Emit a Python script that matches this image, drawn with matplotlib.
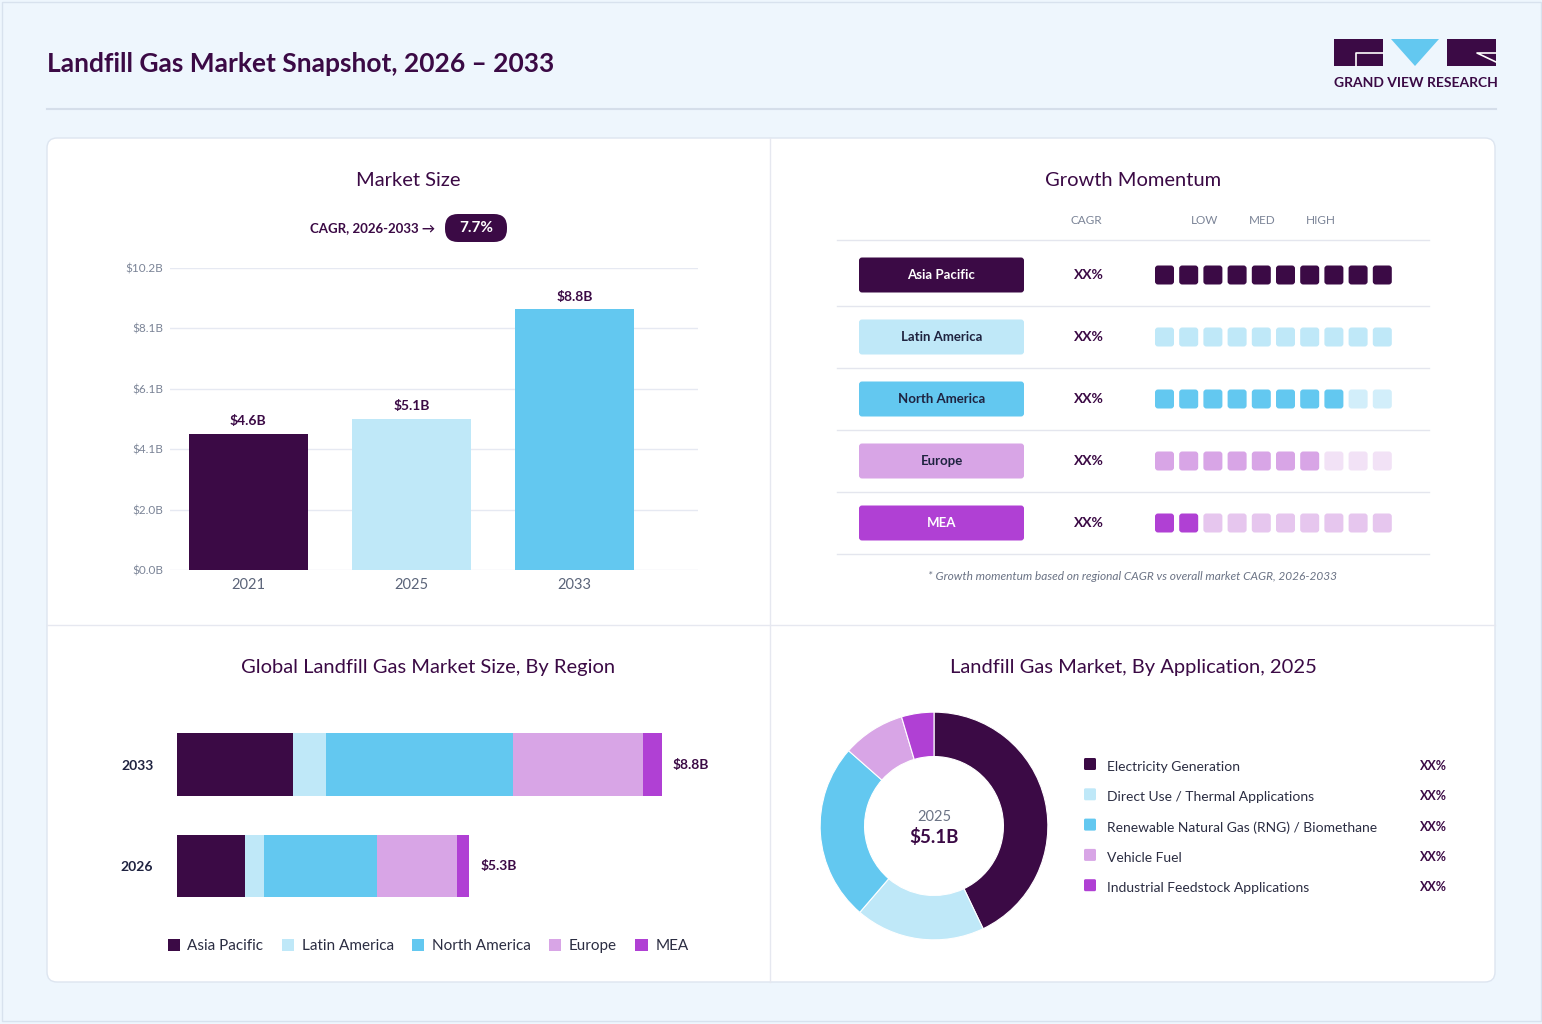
import numpy as np
import matplotlib.pyplot as plt
from matplotlib.patches import FancyBboxPatch, Rectangle, Polygon

plt.rcParams['font.family'] = ['Lato', 'DejaVu Sans']

# ---- data ----
years = ['2021', '2025', '2033']
market_size = [4.6, 5.1, 8.8]
size_labels = ['$4.6B', '$5.1B', '$8.8B']
y_tick_labels = ['$0.0B', '$2.0B', '$4.1B', '$6.1B', '$8.1B', '$10.2B']
cagr_text = '7.7%'

regions = ['Asia Pacific', 'Latin America', 'North America', 'Europe', 'MEA']
momentum = [10, 10, 8, 7, 2]
cagr_labels = ['XX%', 'XX%', 'XX%', 'XX%', 'XX%']

region_years = ['2026', '2033']
region_2026 = [1.23, 0.35, 2.05, 1.45, 0.22]
region_2033 = [2.10, 0.60, 3.40, 2.36, 0.34]
region_totals = ['$5.3B', '$8.8B']

applications = ['Electricity Generation', 'Direct Use / Thermal Applications',
                'Renewable Natural Gas (RNG) / Biomethane', 'Vehicle Fuel',
                'Industrial Feedstock Applications']
app_share = [42.9, 18.4, 25.2, 8.9, 4.6]
app_labels = ['XX%', 'XX%', 'XX%', 'XX%', 'XX%']

# ---- style ----
DARK = '#3B0A45'
colors = ['#3B0A45', '#BFE8F8', '#63C8F0', '#D8A5E6', '#B040D4']
inactive = ['#E3DCE6', '#D6F0FA', '#D2EEFA', '#F2E2F6', '#E6C6EE']
pill_text = ['white', '#1F2340', '#1F2340', '#1F2340', 'white']
GRAY = '#7B8497'

W, H = 1542, 1024
fig = plt.figure(figsize=(W / 100, H / 100), dpi=100)
fig.patch.set_facecolor('#EEF6FD')


def px_axes(x0, y0, x1, y1):
    return fig.add_axes([x0 / W, 1 - y1 / H, (x1 - x0) / W, (y1 - y0) / H])


def rbox(ax, x0, y0, x1, y1, r, fc, ec='none', lw=1, z=1):
    ax.add_patch(FancyBboxPatch((x0, y0), x1 - x0, y1 - y0,
                                boxstyle=f'round,pad=0,rounding_size={r}',
                                fc=fc, ec=ec, lw=lw, zorder=z))


# background layer in pixel coordinates
bg = fig.add_axes([0, 0, 1, 1])
bg.set_xlim(0, W)
bg.set_ylim(H, 0)
bg.axis('off')

bg.add_patch(Rectangle((1.5, 1.5), W - 3, H - 5, fc='none', ec='#D8E2EE', lw=1))
bg.text(47, 64, 'Landfill Gas Market Snapshot, 2026 \u2013 2033', fontsize=19,
        fontweight='bold', color=DARK, va='center', ha='left')
bg.plot([47, 1496], [109, 109], color='#D5DEEA', lw=1.5)

# logo
bg.add_patch(Rectangle((1334, 39), 49, 27, fc=DARK))
bg.plot([1356, 1356, 1383], [66, 53, 53], color='white', lw=1.2)
bg.add_patch(Polygon([[1391, 39], [1439, 39], [1415, 66]], fc='#63C8F0'))
bg.add_patch(Rectangle((1447, 39), 49, 27, fc=DARK))
bg.plot([1496, 1477, 1496], [53, 53, 62], color='white', lw=1.2)
bg.text(1415.5, 83, 'GRAND VIEW RESEARCH', fontsize=10, fontweight='bold',
        color=DARK, ha='center', va='center')

# main card
rbox(bg, 47, 138, 1495, 982, 10, 'white', ec='#DDE5F0')
bg.plot([770, 770], [138, 982], color='#E6E8F0', lw=1)
bg.plot([47, 1495], [625, 625], color='#E6E8F0', lw=1)

title_kw = dict(fontsize=14.5, color=DARK, ha='center', va='center')
bg.text(408, 181, 'Market Size', **title_kw)
bg.text(1133, 181, 'Growth Momentum', **title_kw)
bg.text(428, 668, 'Global Landfill Gas Market Size, By Region', **title_kw)
bg.text(1133, 668, 'Landfill Gas Market, By Application, 2025', **title_kw)

# CAGR pill
bg.text(435, 228, 'CAGR, 2026-2033 \u2192', fontsize=9.5, fontweight='bold',
        color=DARK, ha='right', va='center')
rbox(bg, 445, 214, 507, 242, 13, DARK)
bg.text(476, 228, cagr_text, fontsize=11, fontweight='bold', color='white',
        ha='center', va='center')

# ---- market size bars ----
ax1 = px_axes(170, 268, 698, 570)
x = np.arange(len(years))
bars = ax1.bar(x, market_size, width=0.73, color=colors[:3], zorder=3)
ax1.bar_label(bars, labels=size_labels, padding=5, fontsize=10,
              fontweight='bold', color=DARK)
ax1.set_xlim(-0.48, 2.755)
ax1.set_ylim(0, 10.2)
ax1.set_yticks(np.linspace(0, 10.2, 6))
ax1.set_yticklabels(y_tick_labels)
ax1.set_xticks(x)
ax1.set_xticklabels(years)
ax1.tick_params(axis='y', length=0, pad=5, labelsize=8.5, labelcolor=GRAY)
ax1.tick_params(axis='x', length=0, pad=6, labelsize=10.5, labelcolor='#5B6479')
ax1.grid(axis='y', color='#E6E9F2', lw=1, zorder=0)
for s in ax1.spines.values():
    s.set_visible(False)
ax1.patch.set_alpha(0)

# ---- growth momentum ----
hdr_kw = dict(fontsize=8.5, color=GRAY, ha='center', va='center')
bg.text(1086, 221, 'CAGR', **hdr_kw)
bg.text(1205, 221, 'LOW', **hdr_kw)
bg.text(1262, 221, 'MED', **hdr_kw)
bg.text(1321, 221, 'HIGH', **hdr_kw)
bg.plot([837, 1429], [239.5, 239.5], color='#E4E6EE', lw=1)

row0, pitch = 275, 62
for r, reg in enumerate(regions):
    yc = row0 + r * pitch
    rbox(bg, 859, yc - 17.5, 1024, yc + 17.5, 3, colors[r])
    bg.text(941.5, yc, reg, fontsize=9.5, fontweight='bold', color=pill_text[r],
            ha='center', va='center')
    bg.text(1089, yc, cagr_labels[r], fontsize=10, fontweight='bold',
            color=DARK, ha='center', va='center')
    for i in range(10):
        c = colors[r] if i < momentum[r] else inactive[r]
        x0 = 1155 + i * 24.2
        rbox(bg, x0, yc - 9.5, x0 + 19, yc + 9.5, 3, c)
    bg.plot([837, 1429], [yc + 30.5, yc + 30.5], color='#E4E6EE', lw=1)

bg.text(1133, 577, '* Growth momentum based on regional CAGR vs overall market CAGR, 2026-2033',
        fontsize=8.6, style='italic', color='#6B7385', ha='center', va='center')

# ---- stacked region bars ----
ax2 = px_axes(177, 713.75, 720, 916.75)
ax2.set_xlim(0, (720 - 177) / 55.1)
ax2.set_ylim(-0.5, 1.5)
left = np.zeros(2)
for k, reg in enumerate(regions):
    vals = np.array([region_2026[k], region_2033[k]])
    ax2.barh([0, 1], vals, left=left, height=0.62, color=colors[k], label=reg)
    left += vals
for j, txt in enumerate(region_totals):
    ax2.annotate(txt, (left[j], j), xytext=(8, 0), textcoords='offset points',
                 va='center', ha='left', fontsize=10, fontweight='bold', color=DARK)
ax2.set_yticks([0, 1])
ax2.set_yticklabels(region_years, fontweight='bold')
ax2.tick_params(axis='y', length=0, pad=17, labelsize=10, labelcolor='#1F2340')
ax2.set_xticks([])
for s in ax2.spines.values():
    s.set_visible(False)
ax2.patch.set_alpha(0)
ax2.legend(loc='center', bbox_to_anchor=(428 / W, 1 - 946 / H),
           bbox_transform=fig.transFigure, ncol=5, frameon=False, fontsize=11,
           handlelength=0.8, handleheight=0.8, handletextpad=0.5,
           columnspacing=1.2, labelcolor='#2B2D42')

# ---- donut ----
ax3 = px_axes(819, 711, 1049, 941)
ax3.pie(app_share, colors=colors, startangle=90, counterclock=False, radius=1,
        wedgeprops=dict(width=0.39, edgecolor='white', linewidth=0.8))
ax3.set_xlim(-1.01, 1.01)
ax3.set_ylim(-1.01, 1.01)
ax3.set_aspect('equal')
ax3.text(0, 0.08, '2025', fontsize=10.5, color='#6B7385', ha='center', va='center')
ax3.text(0, -0.1, '$5.1B', fontsize=13.5, fontweight='bold', color=DARK,
         ha='center', va='center')

for k, app in enumerate(applications):
    yc = 766 + k * 30.3
    rbox(bg, 1084, yc - 8, 1096, yc + 4, 1.5, colors[k])
    bg.text(1107, yc + 1, app, fontsize=10, color='#2B2D42', ha='left', va='center')
    bg.text(1447, yc, app_labels[k], fontsize=9, fontweight='bold', color=DARK,
            ha='right', va='center')

fig.savefig('out.png', dpi=100, facecolor=fig.get_facecolor())
